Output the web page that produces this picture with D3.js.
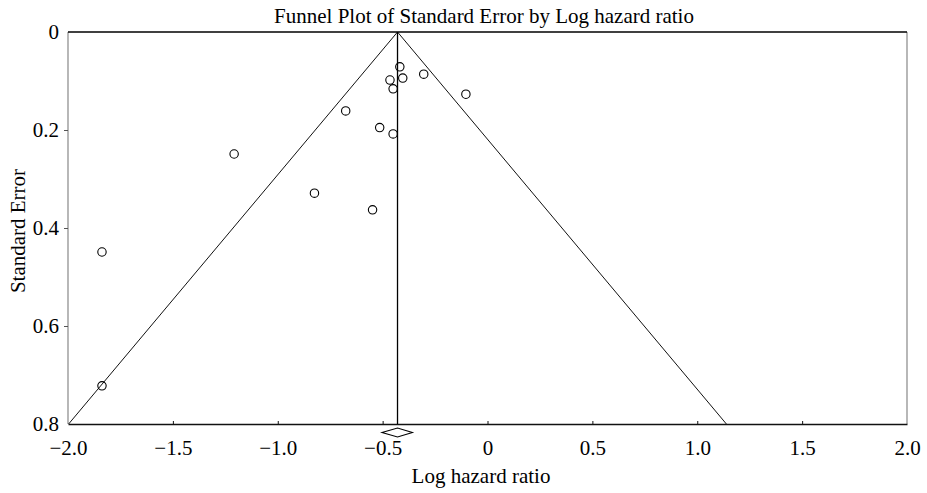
<!DOCTYPE html>
<html>
<head>
<meta charset="utf-8">
<script src="https://cdn.jsdelivr.net/npm/d3@7"></script>
<style>
  html, body { margin: 0; padding: 0; background: #fff; }
  svg { display: block; }
  text { font-family: "Liberation Serif", "Times New Roman", serif; fill: #000; }
</style>
</head>
<body>
<svg id="chart" width="927" height="493"></svg>
<script>
// ---- data ----
const logHR   = [-0.418, -0.465, -0.404, -0.450, -0.304, -0.103, -0.676, -0.514, -0.450, -1.208, -0.825, -0.548, -1.838, -1.838];
const stdErr  = [ 0.071,  0.098,  0.094,  0.116,  0.086,  0.127,  0.161,  0.195,  0.208,  0.249,  0.329,  0.363,  0.449,  0.722];
const summaryEffect = -0.429;
const summaryCI = [-0.503, -0.358];
const funnelMaxSE = 0.8;
const zCrit = 1.96;
const xTickValues = [-2.0, -1.5, -1.0, -0.5, 0, 0.5, 1.0, 1.5, 2.0];
const xTickLabels = ["\u22122.0", "\u22121.5", "\u22121.0", "\u22120.5", "0", "0.5", "1.0", "1.5", "2.0"];
const yTickValues = [0, 0.2, 0.4, 0.6, 0.8];
const yTickLabels = ["0", "0.2", "0.4", "0.6", "0.8"];
const titleText = "Funnel Plot of Standard Error by Log hazard ratio";
const xTitle = "Log hazard ratio";
const yTitle = "Standard Error";

// ---- layout ----
const W = 927, H = 493;
const m = { left: 68, right: 20, top: 32, bottom: 69 };
const svg = d3.select("#chart");
const x = d3.scaleLinear().domain([-2, 2]).range([m.left, W - m.right]);
const y = d3.scaleLinear().domain([0, 0.8]).range([m.top, H - m.bottom]);
const x0 = x.range()[0], x1 = x.range()[1], y0 = y.range()[0], y1 = y.range()[1];

// frame
svg.append("line").attr("x1", x0).attr("x2", x0).attr("y1", y0).attr("y2", y1).attr("stroke", "#888").attr("stroke-width", 1.2);
svg.append("line").attr("x1", x1).attr("x2", x1).attr("y1", y0).attr("y2", y1).attr("stroke", "#888").attr("stroke-width", 1.2);
svg.append("line").attr("x1", x0).attr("x2", x1).attr("y1", y0).attr("y2", y0).attr("stroke", "#000").attr("stroke-width", 1.4);

// x axis (bottom)
const xAxis = d3.axisBottom(x).tickValues(xTickValues).tickSize(0).tickFormat((d, i) => xTickLabels[i]);
const gx = svg.append("g").attr("transform", `translate(0,${y1})`).call(xAxis);
gx.select(".domain").attr("stroke", "#111").attr("stroke-width", 1.4);
gx.selectAll(".tick text").attr("dy", 0).attr("y", 31).style("font-size", "21px").style("font-family", "Liberation Serif");
gx.selectAll(".tick").filter(d => d > -2 && d < 2).append("line").attr("y1", -3).attr("y2", 1).attr("stroke", "#111");

// y axis (left)
const yAxis = d3.axisLeft(y).tickValues(yTickValues).tickSize(0).tickPadding(9).tickFormat((d, i) => yTickLabels[i]);
const gy = svg.append("g").attr("transform", `translate(${x0},0)`).call(yAxis);
gy.select(".domain").remove();
gy.selectAll(".tick text").style("font-size", "21px").style("font-family", "Liberation Serif").attr("dy", "0.33em");
gy.selectAll(".tick").filter(d => d > 0 && d < 0.8).append("line").attr("x1", -4).attr("x2", 0).attr("stroke", "#555");

// funnel
const funnel = [
  [[summaryEffect, 0], [summaryEffect - zCrit * funnelMaxSE, funnelMaxSE]],
  [[summaryEffect, 0], [summaryEffect + zCrit * funnelMaxSE, funnelMaxSE]],
  [[summaryEffect, 0], [summaryEffect, funnelMaxSE]]
];
const line = d3.line().x(d => x(d[0])).y(d => y(d[1]));
svg.selectAll("path.funnel").data(funnel).enter().append("path")
  .attr("class", "funnel").attr("d", line).attr("fill", "none")
  .attr("stroke", (d, i) => i === 2 ? "#000" : "#111").attr("stroke-width", (d, i) => i === 2 ? 1.3 : 1);

// points
svg.selectAll("circle.pt").data(logHR.map((v, i) => [v, stdErr[i]])).enter().append("circle")
  .attr("class", "pt").attr("cx", d => x(d[0])).attr("cy", d => y(d[1])).attr("r", 4.2)
  .attr("fill", "none").attr("stroke", "#000").attr("stroke-width", 1.1);

// summary diamond below axis
const dyTop = y1 + 4, dyMid = y1 + 8.5, dyBot = y1 + 13;
const diamond = [[x(summaryCI[0]), dyMid], [x(summaryEffect), dyTop], [x(summaryCI[1]), dyMid], [x(summaryEffect), dyBot]];
svg.append("polygon").attr("points", diamond.map(p => p.join(",")).join(" "))
  .attr("fill", "#fff").attr("stroke", "#000").attr("stroke-width", 1.1);

// titles
svg.append("text").attr("x", 484).attr("y", 23).attr("text-anchor", "middle").style("font-size", "21px").text(titleText);
svg.append("text").attr("x", 481).attr("y", 483).attr("text-anchor", "middle").style("font-size", "21px").text(xTitle);
svg.append("text").attr("transform", `translate(25,${(y0 + y1) / 2 + 3}) rotate(-90)`).attr("text-anchor", "middle").style("font-size", "21px").text(yTitle);
</script>
</body>
</html>
